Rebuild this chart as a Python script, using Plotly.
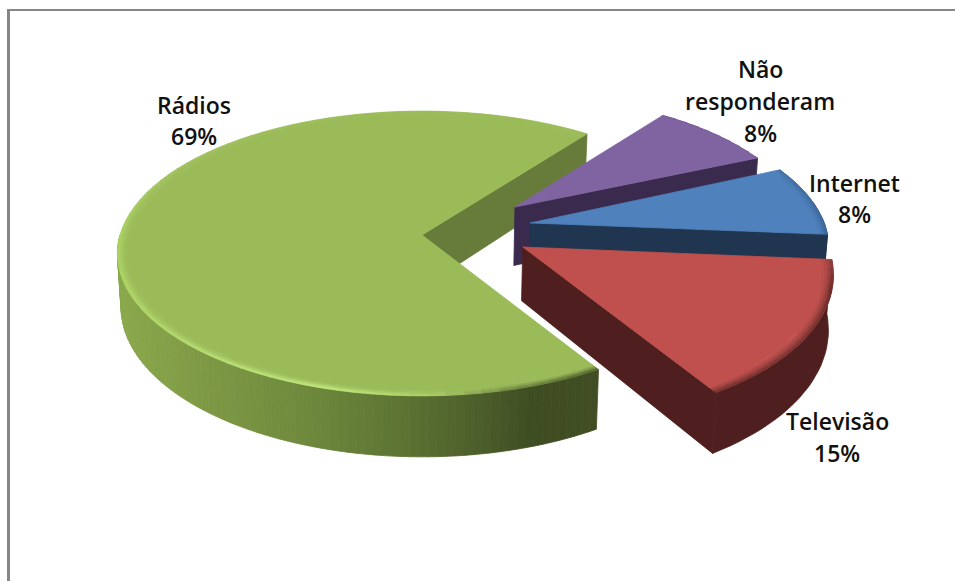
import math
import plotly.graph_objects as go

# Survey shares, counter-clockwise starting from the first slice
categories = ["Rádios", "Televisão", "Internet", "Não responderam"]
shares = [69, 15, 8, 8]
top_colors = ["#9bbb59", "#c0504d", "#4f81bd", "#8064a2"]
wall_colors = [None, "#4f1e1e", "#1f3550", "#3a2a4d"]
face_colors = ["#677c3b", "#4f1e1e", "#1f3550", "#3a2a4d"]

# Scene set-up: tilted disc seen in perspective, screen units are pixels
CX, CY, RX, RY, PERSP = 422, 235, 302, 140, 0.13
WALL_TAPER = 0.012
START_DEG = 301.3
# Pull-out offset, radius scale (x, y) and wall height of each slice
offsets = {
    "Rádios": (0.0, 0.0),
    "Televisão": (0.330, -0.085),
    "Internet": (0.362, 0.087),
    "Não responderam": (0.316, 0.205),
}
scales = {
    "Rádios": (1.0, 1.0),
    "Televisão": (1.0, 1.05),
    "Internet": (0.985, 1.0),
    "Não responderam": (0.965, 0.95),
}
depths = {"Rádios": 53, "Televisão": 53, "Internet": 56, "Não responderam": 60}
label_lines = {
    "Rádios": ((194, 105), 31),
    "Não responderam": ((760, 69), 32),
    "Internet": ((854, 183), 31),
    "Televisão": ((837, 421), 32),
}

fig = go.Figure()


def project(gx, gy, drop=0.0):
    w = 1 + PERSP * gy
    taper = 1 - WALL_TAPER * (drop > 0)
    return CX + RX * gx / w * taper, CY - RY * gy / w + drop / w


def rim_point(name, deg, r=1.0, drop=0.0):
    a = math.radians(deg)
    ox, oy = offsets[name]
    sx, sy = scales[name]
    return project(ox + sx * r * math.cos(a), oy + sy * r * math.sin(a), drop)


def poly(points, color):
    xs = [p[0] for p in points] + [points[0][0]]
    ys = [p[1] for p in points] + [points[0][1]]
    fig.add_trace(go.Scatter(
        x=xs, y=ys, mode="lines", fill="toself", fillcolor=color,
        line=dict(color=color, width=0.8), hoverinfo="skip", showlegend=False,
    ))


def hex_rgb(c):
    return tuple(int(c[i:i + 2], 16) for i in (1, 3, 5))


def blend(c1, c2, t):
    t = max(0.0, min(1.0, t))
    a, b = hex_rgb(c1), hex_rgb(c2)
    return "#%02x%02x%02x" % tuple(round(a[i] + (b[i] - a[i]) * t) for i in range(3))


def ramp(stops, v):
    if v <= stops[0][0]:
        return stops[0][1]
    for (v0, c0), (v1, c1) in zip(stops, stops[1:]):
        if v <= v1:
            return blend(c0, c1, (v - v0) / (v1 - v0))
    return stops[-1][1]


def arc_angles(a0, a1, step=3.0):
    n = max(2, int(abs(a1 - a0) / step))
    return [a0 + (a1 - a0) * i / n for i in range(n + 1)]


# Highlight colour of the bevel, by angle around each slice
green_rim = [(90, "#9bbb59"), (150, "#a0c25c"), (180, "#acd562"), (215, "#b4dc6c"), (255, "#c4ec80"),
             (272, "#acd068"), (285, "#6f8540"), (301.4, "#465626")]
red_rim = [(-58.7, "#6e2c2a"), (-35, "#742f2d"), (-15, "#642826"), (-4.7, "#8a3c3a")]
blue_rim = [(-4.7, "#3b6496"), (10, "#3f6a9e"), (24.1, "#4674a8")]
purple_rim = [(24.1, "#7a5f9b"), (53, "#7a5f9b")]

# Side wall of the large slice shades along the screen x direction
green_wall = [(117, "#8aa84b"), (200, "#7f9a45"), (300, "#6f8a3d"), (400, "#5d7433"),
              (480, "#4c5e2a"), (530, "#3f4d22"), (600, "#414e24")]


def draw_top(name, a0, a1, color, rim_stops, bevel=0.035):
    apex = project(*offsets[name])
    angles = arc_angles(a0, a1)
    poly([apex] + [rim_point(name, a, 1 - bevel) for a in angles], color)
    bands = 4
    for b in range(bands):
        r0 = 1 - bevel + bevel * b / bands
        r1 = 1 - bevel + bevel * (b + 1) / bands
        t = ((b + 0.5) / bands) ** 1.5
        for s, e in zip(angles, angles[1:]):
            c = blend(color, ramp(rim_stops, (s + e) / 2), t)
            poly([rim_point(name, s, r0), rim_point(name, e, r0),
                  rim_point(name, e, r1), rim_point(name, s, r1)], c)


def draw_shaded_wall(name, a0, a1, stops):
    angles = arc_angles(a0, a1, 1.5)
    d = depths[name]
    for s, e in zip(angles, angles[1:]):
        p = rim_point(name, s)
        q = rim_point(name, e)
        poly([p, q, rim_point(name, e, 1, d), rim_point(name, s, 1, d)],
             ramp(stops, (p[0] + q[0]) / 2))


def draw_curved_wall(name, a0, a1, color):
    d = depths[name]
    angles = arc_angles(a0, a1, 2.0)
    poly([rim_point(name, a) for a in angles] +
         [rim_point(name, a, 1, d) for a in angles[::-1]], color)


def draw_flat_wall(name, deg, color):
    ox, oy = offsets[name]
    d = depths[name]
    poly([project(ox, oy), rim_point(name, deg), rim_point(name, deg, 1, d), project(ox, oy, d)], color)


# Slice boundaries follow directly from the shares
spans = {}
angle = START_DEG - 360
order = ["Televisão", "Internet", "Não responderam", "Rádios"]
for name in order:
    sweep = shares[categories.index(name)] * 3.6
    spans[name] = (angle, angle + sweep)
    angle += sweep

# Back to front: inner face of the large slice, then the pulled slices, then its body
rad_a0, rad_a1 = spans["Rádios"]
draw_flat_wall("Rádios", rad_a0, face_colors[0])

a0, a1 = spans["Não responderam"]
draw_flat_wall("Não responderam", a0, wall_colors[3])
draw_top("Não responderam", a0, a1, top_colors[3], purple_rim, 0.012)

a0, a1 = spans["Internet"]
draw_curved_wall("Internet", a0, a1, wall_colors[2])
draw_flat_wall("Internet", a0, wall_colors[2])
draw_top("Internet", a0, a1, top_colors[2], blue_rim, 0.03)

a0, a1 = spans["Televisão"]
draw_curved_wall("Televisão", a0, a1, wall_colors[1])
draw_flat_wall("Televisão", a0, wall_colors[1])
draw_top("Televisão", a0, a1, top_colors[1], red_rim, 0.035)

draw_shaded_wall("Rádios", 180, 301.3, green_wall)
draw_top("Rádios", rad_a0, rad_a1, top_colors[0], green_rim, 0.03)

# One text line per annotation so the leading stays even
for i, name in enumerate(categories):
    (lx, ly), lead = label_lines[name]
    words = name.split(" ") + [f"{shares[i]}%"]
    for j, word in enumerate(words):
        fig.add_annotation(x=lx, y=ly + j * lead, text=word, showarrow=False,
                           xanchor="center", yanchor="middle",
                           font=dict(family="Open Sans", size=23, color="#111111", weight=600))

fig.add_shape(type="line", x0=8.5, x1=8.5, y0=9, y1=581, line=dict(color="#868686", width=3))
fig.add_shape(type="line", x0=7, x1=955, y0=10, y1=10, line=dict(color="#868686", width=2))

fig.update_layout(
    width=955, height=581, margin=dict(l=0, r=0, t=0, b=0),
    paper_bgcolor="white", plot_bgcolor="white", showlegend=False,
    xaxis=dict(range=[0, 955], visible=False, fixedrange=True),
    yaxis=dict(range=[581, 0], visible=False, fixedrange=True),
)
fig.write_html("out.html", config={"displayModeBar": False})
